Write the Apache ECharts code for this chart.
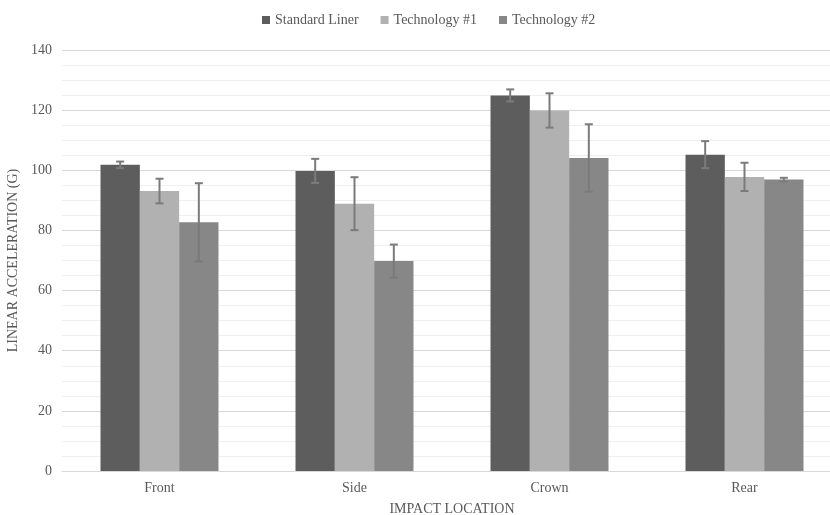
<!DOCTYPE html>
<html><head><meta charset="utf-8">
<script src="https://cdn.jsdelivr.net/npm/echarts@6/dist/echarts.min.js"></script>
<style>html,body{margin:0;padding:0;background:#fff}#c{width:830px;height:515px}</style>
</head><body><div id="c"></div>
<script>
const categories = ['Front', 'Side', 'Crown', 'Rear'];
const seriesNames = ['Standard Liner', 'Technology #1', 'Technology #2'];
const standardLiner = [101.8, 99.8, 124.9, 105.2];
const technology1 = [93.1, 88.9, 119.9, 97.8];
const technology2 = [82.7, 69.8, 104.1, 96.9];
const standardLinerErr = [1.1, 4.0, 2.0, 4.5];
const technology1Err = [4.1, 8.8, 5.7, 4.7];
const technology2Err = [13.0, 5.5, 11.2, 0.6];
const yTicks = [0, 20, 40, 60, 80, 100, 120, 140];

const values = [standardLiner, technology1, technology2];
const errs = [standardLinerErr, technology1Err, technology2Err];
const colors = ['#5d5d5d', '#b1b1b1', '#878787'];
const catGap = 0.395;
const font = '"Liberation Serif", "Times New Roman", serif';

const barSeries = seriesNames.map((n, i) => ({
  name: n, type: 'bar', data: values[i], barGap: '0%', barCategoryGap: (catGap*100)+'%',
  itemStyle: { color: colors[i] }, z: 2
}));
const errSeries = seriesNames.map((n, i) => ({
  name: n + ' err', type: 'custom', z: 5,
  data: values[i].map((v, k) => [k, v + errs[i][k], v - errs[i][k]]),
  renderItem: function (params, api) {
    const k = api.value(0);
    const band = api.size([1, 0])[0];
    const bw = band * (1 - catGap) / 3;
    const off = (i - 1) * bw;
    const hi = api.coord([k, api.value(1)]);
    const lo = api.coord([k, api.value(2)]);
    const x = hi[0] + off;
    const cap = 4;
    const style = { stroke: '#7b7b7b', lineWidth: 2 };
    return { type: 'group', children: [
      { type: 'line', shape: { x1: x, y1: hi[1], x2: x, y2: lo[1] }, style },
      { type: 'line', shape: { x1: x - cap, y1: hi[1], x2: x + cap, y2: hi[1] }, style },
      { type: 'line', shape: { x1: x - cap, y1: lo[1], x2: x + cap, y2: lo[1] }, style }
    ]};
  }
}));

const chart = echarts.init(document.getElementById('c'));
chart.setOption({
  animation: false,
  textStyle: { fontFamily: font },
  legend: {
    data: seriesNames, top: 8, left: 257, icon: 'rect', itemWidth: 8, itemHeight: 8, itemGap: 22,
    textStyle: { fontFamily: font, fontSize: 14, color: '#595959' }
  },
  grid: { left: 62, top: 50, width: 780, height: 421, containLabel: false, outerBoundsMode: 'none' },
  xAxis: {
    type: 'category', data: categories,
    name: 'IMPACT LOCATION', nameLocation: 'middle', nameGap: 31,
    nameTextStyle: { fontFamily: font, fontSize: 14, color: '#595959' },
    axisLine: { lineStyle: { color: '#d9d9d9', width: 1 } },
    axisTick: { show: false },
    axisLabel: { fontFamily: font, fontSize: 14, color: '#595959', margin: 10 }
  },
  yAxis: {
    type: 'value', min: yTicks[0], max: yTicks[yTicks.length - 1], interval: 20,
    name: 'LINEAR ACCELERATION (G)', nameLocation: 'middle', nameGap: 41,
    nameTextStyle: { fontFamily: font, fontSize: 14, color: '#595959' },
    axisLine: { show: false }, axisTick: { show: false },
    axisLabel: { fontFamily: font, fontSize: 14, color: '#595959', margin: 10 },
    splitLine: { lineStyle: { color: '#d9d9d9', width: 1 } },
    minorTick: { show: false, splitNumber: 4 },
    minorSplitLine: { show: true, lineStyle: { color: '#efefef', width: 1 } }
  },
  series: barSeries.concat(errSeries)
});
</script></body></html>
